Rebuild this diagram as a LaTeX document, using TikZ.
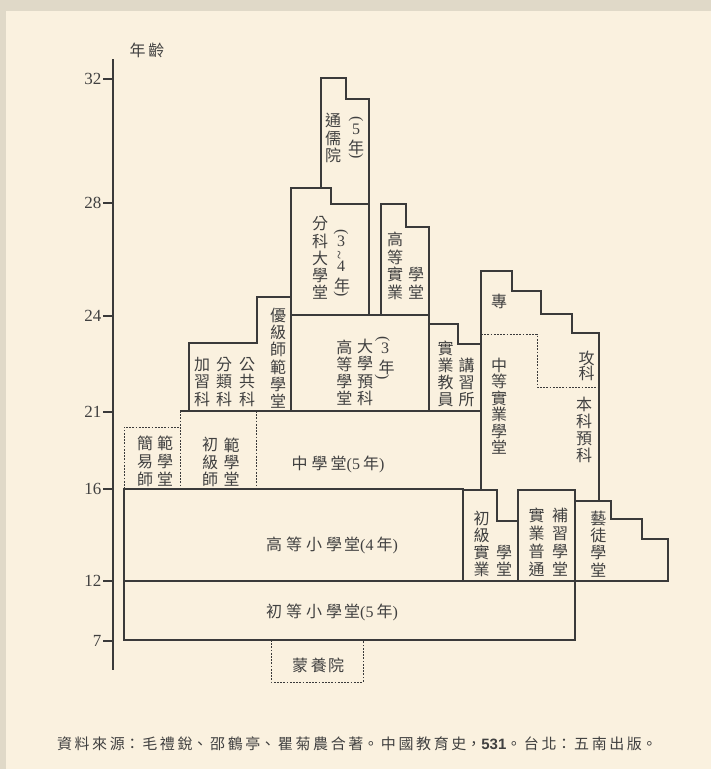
\documentclass[tikz,border=0pt]{standalone}
\usepackage{fontspec}
\setmainfont{Liberation Serif}
\newfontfamily\cjk{Noto Sans CJK TC}
\newfontfamily\lsans{Liberation Sans}
\definecolor{bgout}{HTML}{E0D9C8}
\definecolor{bgin}{HTML}{FAF1DF}
\definecolor{linec}{HTML}{3A3A3A}
\definecolor{txtc}{HTML}{404040}
\tikzset{
  ln/.style={draw=linec, line width=1.1pt},
  dsh/.style={draw=linec, line width=0.9pt, dash pattern=on 1.8pt off 1.4pt},
  vt/.style={font=\cjk\fontsize{16}{17.5}\selectfont, text=txtc, align=center, inner sep=0pt},
  vtp/.style={vt, font=\cjk\fontsize{16}{#1}\selectfont},
  ht/.style={font=\cjk\fontsize{16}{18}\selectfont, text=txtc, inner sep=0pt},
  axl/.style={font=\fontsize{17}{17}\selectfont, text=txtc, inner sep=0pt, anchor=east},
  dig/.style={font=\fontsize{16}{16}\selectfont, text=txtc, inner sep=0pt},
  lp/.style={font=\fontsize{16}{16}\selectfont, text=txtc, inner sep=0pt, rotate=-90},
  tl/.style={font=\fontsize{16}{16}\selectfont, text=txtc, inner sep=0pt, rotate=90},
}
\begin{document}
\begin{tikzpicture}[x=1pt,y=-1pt]
\fill[bgout] (0,0) rectangle (711,769);
\fill[bgin] (6,11) rectangle (711,769);
\useasboundingbox (0,0) rectangle (711,769);

% axis
\coordinate (ax0) at (113,59);
\coordinate (ax1) at (113,670);
\draw[ln] (ax0) -- (ax1);
\foreach \v/\y in {32/79,28/203,24/316,21/412,16/489,12/581,7/641}{
  \coordinate (k\v) at (103,\y);
  \coordinate (m\v) at (113,\y);
  \draw[ln] (k\v) -- (m\v);
  \node[axl] (t\v) at (101.5,\y) {\v};
}
\node[ht] (age) at (147,50) {年\kern3pt 齡};

% boxes
\draw[ln] (124,581) rectangle (575,640);
\draw[ln] (124,489) rectangle (463,581);
\draw[ln] (463,581) -- (463,490) -- (497,490) -- (497,521) -- (518,521) -- (518,581);
\draw[ln] (518,490) rectangle (575,581);
\draw[ln] (575,581) -- (575,501) -- (611,501) -- (611,519) -- (642,519) -- (642,539) -- (668,539) -- (668,581) -- cycle;
\draw[ln] (481,490) -- (481,271) -- (512,271) -- (512,291) -- (541,291) -- (541,314) -- (572,314) -- (572,333) -- (599,333) -- (599,501);
\draw[dsh] (481,334) -- (537,334) -- (537,387) -- (599,387);
\draw[ln] (180,411) -- (481,411);
\draw[dsh] (180,411) -- (180,489);
\draw[dsh] (256,411) -- (256,489);
\draw[dsh] (124,489) -- (124,427) -- (180,427);
\draw[ln] (189,411) -- (189,343) -- (257,343) -- (257,297) -- (291,297) -- (291,411);
\draw[ln] (291,315) rectangle (429,411);
\draw[ln] (429,324) -- (458,324) -- (458,344) -- (481,344);
\draw[ln] (291,315) -- (291,188) -- (331,188) -- (331,204) -- (369,204) -- (369,315);
\draw[ln] (321,188) -- (321,78) -- (346,78) -- (346,99) -- (369,99) -- (369,204);
\draw[ln] (381,315) -- (381,204) -- (406,204) -- (406,227) -- (429,227) -- (429,315);
\draw[dsh] (271,640) rectangle (363,682);

% 通儒院
\node[vt] (v1) at (333,138) {通\\儒\\院};
\node[lp] (p1a) at (356,119.5) {(};
\node[dig] (p1b) at (356,129) {5};
\node[vt] (p1c) at (356,147.5) {年};
\node[lp] (p1d) at (356,156) {)};
% 分科大學堂
\node[vtp=17.1] (v2) at (320,258) {分\\科\\大\\學\\堂};
\node[lp] (p2a) at (341,232.5) {(};
\node[dig] (p2b) at (341,241.5) {3};
\node[tl] (p2c) at (341,255) {\char`\~};
\node[dig] (p2d) at (341,266.5) {4};
\node[vt] (p2e) at (342,285.5) {年};
\node[lp] (p2f) at (341,294.5) {)};
% 高等實業學堂
\node[vtp=17.6] (v3) at (395,266) {高\\等\\實\\業};
\node[vtp=17.6] (v4) at (416,283) {學\\堂};
% 優級師範學堂 etc.
\node[vtp=17.3] (v5) at (278,358.3) {優\\級\\師\\範\\學\\堂};
\node[vt] (v6) at (202,381.7) {加\\習\\科};
\node[vt] (v7) at (224,381.7) {分\\類\\科};
\node[vt] (v8) at (247,381.7) {公\\共\\科};
% 高等學堂 大學預科
\node[vtp=17.2] (v9) at (344.3,372.5) {高\\等\\學\\堂};
\node[vtp=17.2] (v10) at (365,372.5) {大\\學\\預\\科};
\node[lp] (p3a) at (382.5,339) {(};
\node[dig] (p3b) at (385,348.5) {3};
\node[vt] (p3c) at (386.5,367.5) {年};
\node[lp] (p3d) at (382,377.5) {)};
% 實業教員講習所
\node[vtp=17.2] (v11) at (445.7,374) {實\\業\\教\\員};
\node[vtp=17.2] (v12) at (466.7,382.5) {講\\習\\所};
% 專攻科 中等實業學堂 本科預科
\node[vt] (v13) at (499,301.7) {專};
\node[vtp=16.5] (v14) at (499,406) {中\\等\\實\\業\\學\\堂};
\node[vtp=15.5] (v15) at (586.7,366) {攻\\科};
\node[vtp=16.8] (v16) at (584,430) {本\\科\\預\\科};
% 簡易師範學堂 初級師範學堂
\node[vtp=18] (v17) at (145,461.5) {簡\\易\\師};
\node[vtp=18] (v18) at (165,461.5) {範\\學\\堂};
\node[vtp=17.3] (v19) at (210,462) {初\\級\\師};
\node[vtp=17.3] (v20) at (231.7,462) {範\\學\\堂};
% lower right
\node[vtp=17.2] (v21) at (481.7,544) {初\\級\\實\\業};
\node[vtp=17.2] (v22) at (504,561) {學\\堂};
\node[vtp=18] (v23) at (536.7,542) {實\\業\\普\\通};
\node[vtp=18] (v24) at (560,542) {補\\習\\學\\堂};
\node[vtp=17.2] (v25) at (598.3,544) {藝\\徒\\學\\堂};

% horizontal labels
\node[ht] (h1) at (338,464) {中\kern4pt 學\kern3pt 堂{\rmfamily(5}\kern3pt 年{\rmfamily)}};
\node[ht] (h2) at (332,545) {高\kern4pt 等\kern4pt 小\kern4pt 學\kern2pt 堂{\rmfamily(4}\kern3pt 年{\rmfamily)}};
\node[ht] (h3) at (332,612) {初\kern4pt 等\kern4pt 小\kern4pt 學\kern2pt 堂{\rmfamily(5}\kern3pt 年{\rmfamily)}};
\node[ht] (h4) at (318,665) {蒙\kern3pt 養\kern1pt 院};

% source
\node[inner sep=0pt, text=txtc] (src) at (357,744) {\parbox{600pt}{\cjk\fontsize{15}{18}\selectfont\parindent0pt\parfillskip0pt\XeTeXlinebreaklocale "zh"\XeTeXlinebreakskip=0pt plus 4pt 資料來源：毛禮銳、邵鶴亭、瞿菊農合著。中國教育史，{\lsans\bfseries 531}。台北：五南出版。}};
\end{tikzpicture}
\end{document}
